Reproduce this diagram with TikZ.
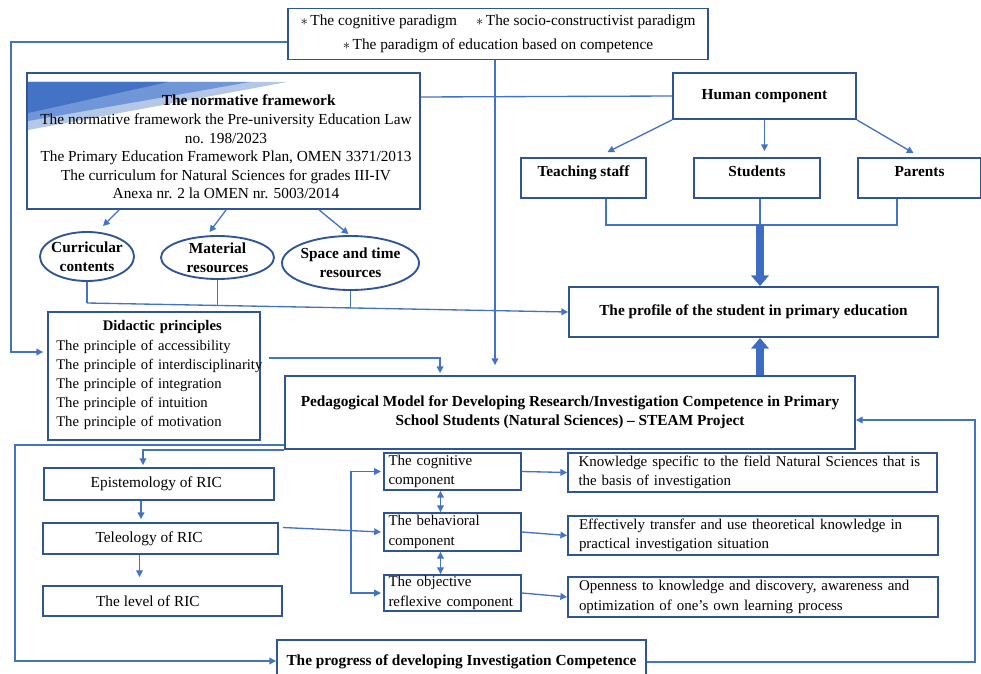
\documentclass[tikz,border=0pt]{standalone}
\usepackage{fontspec}
\setmainfont{Liberation Serif}
\usetikzlibrary{arrows.meta,calc,shapes.geometric}
\definecolor{lineblue}{RGB}{68,114,196}
\definecolor{boxblue}{RGB}{47,85,151}
\definecolor{fatblue}{RGB}{63,108,192}
\definecolor{lightwedge}{RGB}{180,199,231}
\definecolor{midwedge}{RGB}{112,150,215}
\newcommand{\pbul}{{\fontsize{11}{11}\selectfont$\ast$}\,}

\begin{document}
\begin{tikzpicture}
  [x=0.75pt, y=-0.75pt,
    every node/.style={font=\fontsize{11.5}{13.9}\selectfont, inner sep=0pt},
    sz/.style 2 args={minimum width=#1*0.75pt, minimum height=#2*0.75pt},
    box/.style={draw=boxblue, line width=1.4pt, rectangle, align=center},
    bold/.style={font=\fontsize{11.5}{14.5}\selectfont\bfseries},
    upper/.style={text height=8pt, text depth=10pt},
    oval/.style={draw=boxblue, line width=1.4pt, ellipse, align=center,
      inner sep=-2pt, font=\fontsize{11.5}{14}\selectfont\bfseries},
    comp/.style={box, align=left, inner xsep=3.5pt, text width=96pt,
      font=\fontsize{11.2}{14.5}\selectfont},
    res/.style={box, align=left, inner xsep=7.5pt, text width=261pt,
      font=\fontsize{11.2}{14.5}\selectfont},
    plain/.style={draw=lineblue, line width=1pt},
    link/.style={plain, -{Triangle[length=5pt,width=5pt]}},
    dlink/.style={plain, {Triangle[length=5pt,width=5pt]}-{Triangle[length=5pt,width=5pt]}},
    fat/.style={draw=fatblue, line width=6pt, -{Triangle[length=8pt,width=13pt]}},
  ]
  \useasboundingbox (0,0) rectangle (981,674);
  \clip (0,0) rectangle (981,674);

  \fill[lightwedge] (28,82) -- (287,82) -- (28,130) -- cycle;
  \fill[midwedge] (28,82) -- (250,82) -- (28,121) -- cycle;
  \fill[lineblue] (28,82) -- (168,82) -- (28,113) -- cycle;

  \node[box, sz={420}{51}] (para) at (498,34)
    {\pbul The cognitive paradigm\quad\ \pbul The socio-constructivist paradigm\\[4pt]
     \pbul The paradigm of education based on competence};

  \node[box, sz={393}{136}] (norm) at (223.5,141) {};
  \node[align=center] (normtxt) at (226,147)
    {\hspace*{34pt}\textbf{The normative framework}\\
     The normative framework the Pre-university Education Law\\
     no. 198/2023\\
     The Primary Education Framework Plan, OMEN 3371/2013\\
     The curriculum for Natural Sciences for grades III-IV\\
     Anexa nr. 2 la OMEN nr. 5003/2014};

  \node[box, bold, sz={183}{46}] (human) at (764.5,96) {Human component};
  \node[box, bold, upper, sz={125}{40}] (teach) at (583.5,178) {Teaching staff};
  \node[box, bold, upper, sz={126}{40}] (stud) at (757,178) {Students};
  \node[box, bold, upper, sz={123}{40}] (parents) at (919.5,178) {Parents};

  \node[box, bold, sz={369}{50}] (profile) at (753.5,312)
    {The profile of the student in primary education};

  \node[oval, sz={94}{49}] (cur) at (87,256.5) {Curricular\\contents};
  \node[oval, sz={113}{43}] (mat) at (217.5,257.5) {Material\\resources};
  \node[oval, sz={137}{54}] (space) at (350.5,263) {Space and time\\resources};

  \node[box, sz={212}{128}] (did) at (154,376) {};
  \node[align=left, text width=159pt, anchor=north west,
    font=\fontsize{11}{14.25}\selectfont] (didtxt) at (56,320)
    {\makebox[159pt]{\textbf{Didactic principles}}\\[1pt]
     The principle of accessibility\\
     The principle of interdisciplinarity\\
     The principle of integration\\
     The principle of intuition\\
     The principle of motivation};

  \node[box, bold, sz={570}{73}] (ped) at (570,412.5)
    {Pedagogical Model for Developing Research/Investigation Competence in Primary\\
     School Students (Natural Sciences) -- STEAM Project};

  \node[box, sz={230}{32}] (epi) at (159,484) {\hspace*{-4pt}Epistemology of RIC};
  \node[box, sz={235}{31}] (tel) at (160.5,538.5) {\hspace*{-17pt}Teleology of RIC};
  \node[box, sz={239}{30}] (level) at (162.5,601) {\hspace*{-22pt}The level of RIC};

  \node[comp, sz={137}{37}] (cog) at (452.5,471.5) {The cognitive\\component};
  \node[comp, sz={137}{38}] (beh) at (452.5,532) {The behavioral\\component};
  \node[comp, sz={137}{36}] (obj) at (452.5,593) {The objective\\reflexive component};

  \node[res, sz={369}{39}] (know) at (752.5,472.5)
    {Knowledge specific to the field Natural Sciences that is\\the basis of investigation};
  \node[res, sz={370}{39}] (eff) at (753,535.5)
    {Effectively transfer and use theoretical knowledge in\\practical investigation situation};
  \node[res, sz={370}{40}] (open) at (753,597)
    {Openness to knowledge and discovery, awareness and\\optimization of one’s own learning process};

  \node[box, bold, sz={369}{44}] (prog) at (461.5,662)
    {The progress of developing Investigation Competence};

  \coordinate (lt) at (11,42);
  \coordinate (lb) at (11,352);
  \draw[link] (para.west |- lt) -- (lt) -- (lb) -- ($(did.west |- lb)+(-4,0)$);

  \coordinate (pv) at (495,0);
  \draw[link] (para.south -| pv) -- ($(ped.north -| pv)+(0,-10)$);

  \coordinate (nh) at (420,97);
  \draw[plain] (norm.east |- nh) -- (human.west);

  \draw[link] (human.south west) -- ($(teach.north)+(24,-5)$);
  \draw[link] (human.south) -- ($(human.south |- stud.north)+(0,-6)$);
  \draw[link] (human.south east) -- ($(parents.north)+(-6,-4)$);

  \coordinate (j1) at (606,225);
  \coordinate (j2) at (760,225);
  \coordinate (j3) at (897,225);
  \draw[plain] (teach.south -| j1) -- (j1) -- (j3) -- (parents.south -| j3);
  \draw[plain] (stud.south -| j2) -- (j2);
  \draw[fat] (j2) -- (profile.north -| j2);
  \draw[fat] (ped.north -| j2) -- (profile.south -| j2);

  \draw[link] ($(norm.south west)+(93,0)$) -- ($(cur.north)+(16,-5)$);
  \draw[link] ($(norm.south west)+(200,0)$) -- ($(mat.north)+(-8,-3)$);
  \draw[link] ($(norm.south west)+(293,0)$) -- ($(space.north)+(-2,-1)$);

  \coordinate (e1) at (87,303);
  \draw[plain] (cur.south) -- (e1);
  \draw[plain] (mat.south) -- ++(0,25);
  \draw[plain] (space.south) -- ++(0,17);
  \draw[link] (e1) -- (profile.west);

  \draw[link] ($(did.east)+(8,-18)$) -| ($(ped.north west)+(156,-2)$);
  \draw[link] (ped.south west) -| ($(epi.north)+(-16,-2)$);

  \coordinate (ll1) at (15,445);
  \coordinate (ll2) at (15,661);
  \draw[link] (ped.west |- ll1) -- (ll1) -- (ll2) -- (prog.west |- ll2);

  \draw[link] ($(epi.south)+(-18,0)$) -- ($(tel.north)+(-19.5,-3)$);
  \draw[link] ($(tel.south)+(-21,0)$) -- ($(level.north)+(-23,-8)$);

  \draw[link] ($(tel.east)+(4,-11)$) -- ($(beh.west)+(-2,0)$);
  \draw[dlink] ($(cog.west)+(-2,0)$) -| ($(obj.west)+(-32,0)$) -- ($(obj.west)+(-2,0)$);

  \draw[dlink] ($(cog.south)+(-12,0)$) -- ($(beh.north)+(-12,0)$);
  \draw[dlink] ($(beh.south)+(-12,0)$) -- ($(obj.north)+(-12,0)$);
  \draw[link] (cog.east) -- (know.west);
  \draw[link] (beh.east) -- (eff.west);
  \draw[link] (obj.east) -- (open.west);

  \coordinate (rr1) at (975,662);
  \coordinate (rr2) at (975,420);
  \draw[link] (prog.east |- rr1) -- (rr1) -- (rr2) -- (ped.east |- rr2);
\end{tikzpicture}
\end{document}
